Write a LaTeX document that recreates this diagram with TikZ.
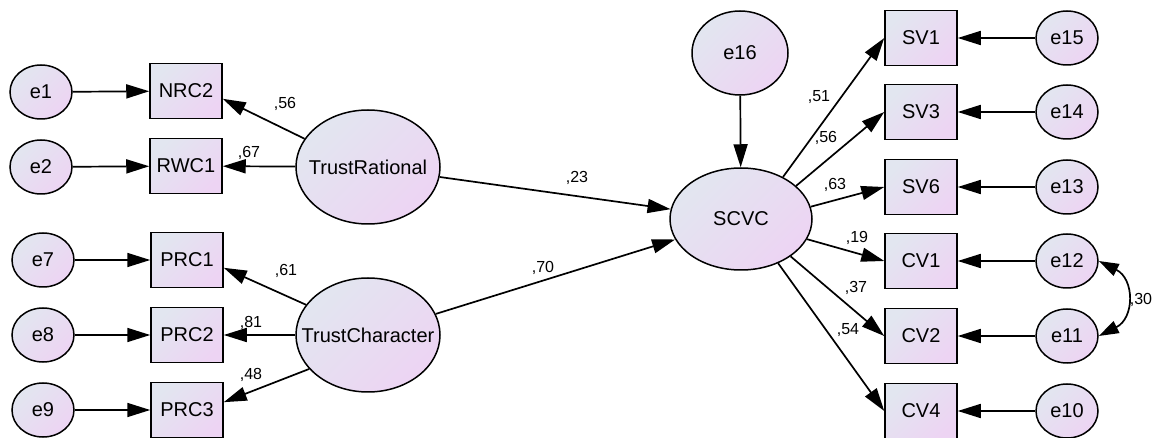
\documentclass[tikz,border=0pt]{standalone}
\usepackage{fontspec}
\setmainfont{Liberation Sans}
\usetikzlibrary{arrows.meta,shapes.geometric}
\definecolor{fillA}{RGB}{226,230,240}
\definecolor{fillB}{RGB}{237,212,243}
% zero-width label so long names do not enlarge an ellipse
\newcommand\nolen[1]{\makebox[0pt]{#1}}
\tikzset{
  shadefill/.style={draw=black, line width=1.5pt, top color=fillA, bottom color=fillB, shading angle=45},
  latent/.style={shadefill, ellipse, inner sep=0pt, font=\fontsize{20}{20}\selectfont},
  obsbox/.style={shadefill, rectangle, minimum width=72pt, minimum height=55pt, inner sep=0pt, font=\fontsize{20}{20}\selectfont},
  errvar/.style={latent, minimum width=62pt, minimum height=54pt},
  path/.style={line width=1.7pt, -{Triangle[length=23pt,width=14pt]}},
  covpath/.style={line width=1.7pt, {Triangle[length=20pt,width=13pt]}-{Triangle[length=20pt,width=13pt]}},
  coef/.style={font=\fontsize{16}{16}\selectfont, inner sep=0pt}
}
\begin{document}
\begin{tikzpicture}[x=1pt,y=-1pt]
\useasboundingbox (0,0) rectangle (1152,438);

% left indicators: trust (rational)
\node[errvar] (e1) at (41,92) {e1};
\node[errvar] (e2) at (41,167) {e2};
\node[obsbox] (nrc2) at (186,91) {NRC2};
\node[obsbox] (rwc1) at (186,166) {RWC1};
\node[latent, minimum width=144pt, minimum height=114pt] (tr) at (368,167) {\nolen{TrustRational}};

% left indicators: trust (character)
\node[errvar] (e7) at (43,260) {e7};
\node[errvar] (e8) at (43,335) {e8};
\node[errvar] (e9) at (43,410) {e9};
\node[obsbox] (prc1) at (187,260) {PRC1};
\node[obsbox] (prc2) at (187,335) {PRC2};
\node[obsbox] (prc3) at (187,410) {PRC3};
\node[latent, minimum width=144pt, minimum height=114pt] (tc) at (368,335) {\nolen{TrustCharacter}};

% outcome construct
\node[latent, minimum width=142pt, minimum height=102pt] (scvc) at (741,219) {SCVC};
\node[latent, minimum width=96pt, minimum height=84pt] (e16) at (740,53) {e16};

% right indicators
\node[obsbox] (sv1) at (921,38) {SV1};
\node[obsbox] (sv3) at (921,112) {SV3};
\node[obsbox] (sv6) at (921,187) {SV6};
\node[obsbox] (cv1) at (921,261) {CV1};
\node[obsbox] (cv2) at (921,336) {CV2};
\node[obsbox] (cv4) at (921,411) {CV4};
\node[errvar] (e15) at (1067,38) {e15};
\node[errvar] (e14) at (1067,112) {e14};
\node[errvar] (e13) at (1067,187) {e13};
\node[errvar] (e12) at (1067,261) {e12};
\node[errvar] (e11) at (1067,336) {e11};
\node[errvar] (e10) at (1067,411) {e10};

% error terms
\draw[path] (e1) -- (nrc2);
\draw[path] (e2) -- (rwc1);
\draw[path] (e7) -- (prc1);
\draw[path] (e8) -- (prc2);
\draw[path] (e9) -- (prc3);
\draw[path] (e16) -- (scvc);
\draw[path] (e15) -- (sv1);
\draw[path] (e14) -- (sv3);
\draw[path] (e13) -- (sv6);
\draw[path] (e12) -- (cv1);
\draw[path] (e11) -- (cv2);
\draw[path] (e10) -- (cv4);

% loadings
\draw[path] (tr.156) -- (nrc2.-12);
\draw[path] (tr) -- (rwc1);
\draw[path] (tc.154) -- (prc1.-12);
\draw[path] (tc) -- (prc2);
\draw[path] (tc.-150) -- (prc3.12);
\draw[path] (scvc.45) -- (sv1.west);
\draw[path] (scvc.31) -- (sv3.west);
\draw[path] (scvc.10) -- (sv6.west);
\draw[path] (scvc.-17) -- (cv1.west);
\draw[path] (scvc.-37) -- (cv2.west);
\draw[path] (scvc.-50) -- (cv4.west);

% structural paths
\draw[path] (tr) -- (scvc);
\draw[path] (tc) -- (scvc);

% error covariance
\draw[covpath] (e12.east) .. controls +(36,18) and +(36,-18) .. (e11.east);

% coefficients
\node[coef] (c1) at (285,104) {,56};
\node[coef] (c2) at (249,153) {,67};
\node[coef] (c3) at (286,271) {,61};
\node[coef] (c4) at (251,323) {,81};
\node[coef] (c5) at (251,375) {,48};
\node[coef] (c6) at (577,178) {,23};
\node[coef] (c7) at (543,268) {,70};
\node[coef] (c8) at (819,97) {,51};
\node[coef] (c9) at (826,138) {,56};
\node[coef] (c10) at (835,185) {,63};
\node[coef] (c11) at (857,238) {,19};
\node[coef] (c12) at (856,288) {,37};
\node[coef] (c13) at (848,330) {,54};
\node[coef] (c14) at (1141,300) {,30};
\end{tikzpicture}
\end{document}
